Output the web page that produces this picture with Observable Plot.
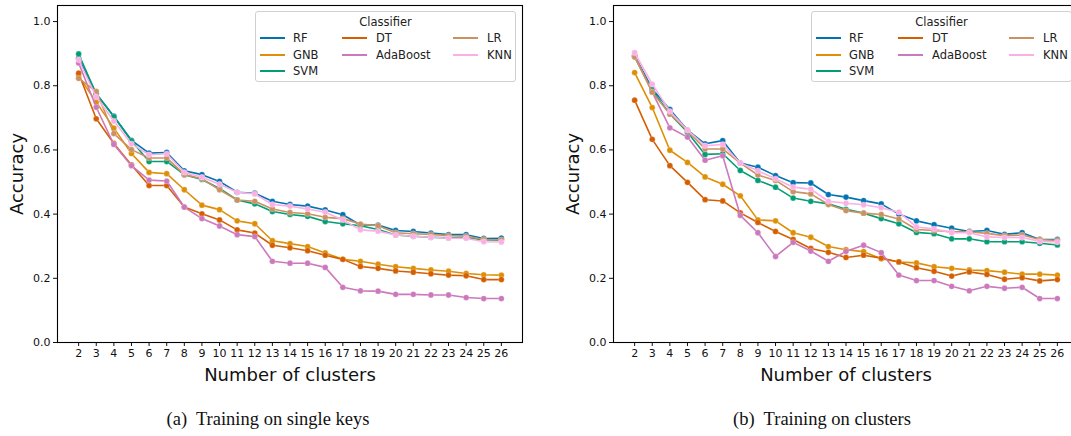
<!DOCTYPE html>
<html>
<head>
<meta charset="utf-8">
<script src="https://cdn.jsdelivr.net/npm/d3@7"></script>
<script src="https://cdn.jsdelivr.net/npm/@observablehq/plot@0.6"></script>
<style>
  html, body { margin: 0; padding: 0; background: #fff; }
  body { width: 1071px; height: 436px; overflow: hidden; position: relative; font-family: "DejaVu Sans", sans-serif; }
  .panel { position: absolute; top: 0; width: 540px; height: 436px; }
  .legend { position: absolute; left: 255px; top: 11px; width: 261px; height: 71px; border: 1px solid #d0d0d0; border-radius: 3px; background: rgba(255,255,255,0.85); font-size: 11.5px; color: #222; box-sizing: border-box; }
  .legend .ttl { position: absolute; left: 0; width: 100%; top: 3px; text-align: center; }
  .legend .item { position: absolute; white-space: nowrap; line-height: 14px; }
  .legend .sw { position: absolute; width: 25px; height: 2px; }
  .caption { position: absolute; top: 409px; font-family: "Liberation Serif", "DejaVu Serif", serif; font-size: 18.5px; color: #111; white-space: pre; transform: translateX(-50%); }
</style>
</head>
<body>
<div id="pa" class="panel" style="left:0px"></div>
<div id="pb" class="panel" style="left:556px"></div>
<div class="caption" style="left:268px">(a)  Training on single keys</div>
<div class="caption" style="left:822px">(b)  Training on clusters</div>
<script>
const clusters = [2,3,4,5,6,7,8,9,10,11,12,13,14,15,16,17,18,19,20,21,22,23,24,25,26];
const classifiers = ["RF","GNB","SVM","DT","AdaBoost","LR","KNN"];
const colors = ["#0173b2","#de8f05","#029e73","#d55e00","#cc78bc","#ca9161","#fbafe4"];
const yTicks = [0, 0.2, 0.4, 0.6, 0.8, 1.0];
const legendColumns = [["RF","GNB","SVM"],["DT","AdaBoost"],["LR","KNN"]];

// (a) Training on single keys
const rfA  = [0.885,0.775,0.705,0.630,0.590,0.592,0.535,0.523,0.502,0.468,0.465,0.440,0.430,0.425,0.413,0.398,0.366,0.366,0.349,0.346,0.341,0.336,0.336,0.324,0.325];
const gnbA = [0.830,0.749,0.668,0.589,0.530,0.526,0.476,0.428,0.414,0.379,0.370,0.317,0.308,0.299,0.279,0.259,0.253,0.244,0.236,0.231,0.226,0.222,0.215,0.211,0.210];
const svmA = [0.899,0.775,0.703,0.628,0.564,0.564,0.523,0.508,0.480,0.444,0.432,0.408,0.399,0.393,0.377,0.370,0.364,0.352,0.335,0.331,0.328,0.326,0.326,0.320,0.319];
const dtA  = [0.839,0.697,0.620,0.553,0.489,0.489,0.422,0.401,0.382,0.351,0.341,0.303,0.295,0.286,0.272,0.259,0.237,0.231,0.223,0.219,0.214,0.210,0.208,0.196,0.196];
const adaA = [0.871,0.733,0.617,0.551,0.506,0.503,0.422,0.386,0.363,0.336,0.330,0.253,0.247,0.247,0.234,0.172,0.161,0.160,0.150,0.150,0.148,0.148,0.140,0.137,0.137];
const lrA  = [0.823,0.782,0.651,0.601,0.575,0.575,0.523,0.510,0.476,0.444,0.440,0.416,0.405,0.401,0.390,0.386,0.369,0.364,0.342,0.339,0.337,0.333,0.331,0.321,0.320];
const knnA = [0.881,0.765,0.690,0.619,0.585,0.588,0.530,0.515,0.493,0.468,0.463,0.430,0.425,0.416,0.406,0.382,0.351,0.347,0.335,0.331,0.328,0.325,0.325,0.314,0.313];

// (b) Training on clusters
const rfB  = [0.894,0.790,0.726,0.662,0.619,0.629,0.559,0.546,0.520,0.498,0.497,0.461,0.453,0.442,0.432,0.400,0.379,0.367,0.356,0.346,0.349,0.337,0.342,0.321,0.321];
const gnbB = [0.841,0.732,0.599,0.561,0.516,0.493,0.457,0.382,0.379,0.342,0.328,0.299,0.289,0.283,0.261,0.251,0.248,0.236,0.231,0.226,0.224,0.219,0.213,0.213,0.210];
const svmB = [0.890,0.785,0.712,0.655,0.586,0.588,0.536,0.505,0.484,0.450,0.440,0.432,0.415,0.403,0.386,0.370,0.343,0.339,0.323,0.323,0.314,0.314,0.314,0.309,0.304];
const dtB  = [0.755,0.633,0.551,0.499,0.445,0.441,0.404,0.374,0.346,0.321,0.293,0.281,0.265,0.272,0.263,0.251,0.233,0.222,0.207,0.220,0.212,0.197,0.202,0.192,0.196];
const adaB = [0.894,0.780,0.669,0.640,0.568,0.582,0.396,0.342,0.268,0.312,0.285,0.253,0.284,0.303,0.280,0.210,0.193,0.193,0.175,0.161,0.175,0.169,0.172,0.137,0.137];
const lrB  = [0.890,0.780,0.712,0.660,0.603,0.603,0.559,0.522,0.505,0.470,0.463,0.430,0.411,0.403,0.399,0.385,0.352,0.349,0.345,0.345,0.340,0.333,0.335,0.321,0.318];
const knnB = [0.903,0.805,0.720,0.662,0.613,0.617,0.559,0.535,0.510,0.484,0.478,0.440,0.434,0.429,0.420,0.406,0.360,0.354,0.342,0.342,0.329,0.327,0.327,0.315,0.313];

const seriesA = [rfA, gnbA, svmA, dtA, adaA, lrA, knnA];
const seriesB = [rfB, gnbB, svmB, dtB, adaB, lrB, knnB];

function makePlot(series) {
  const marks = [];
  series.forEach((vals, i) => {
    const data = clusters.map((c, j) => ({x: c, y: vals[j], clf: classifiers[i]}));
    marks.push(Plot.line(data, {x: "x", y: "y", stroke: colors[i], strokeWidth: 1.6}));
    marks.push(Plot.dot(data, {x: "x", y: "y", fill: colors[i], r: 2.9, stroke: "white", strokeWidth: 0.4, strokeOpacity: 0.6}));
  });
  return Plot.plot({
    width: 540,
    height: 390,
    marginLeft: 57,
    marginRight: 18,
    marginTop: 5,
    marginBottom: 48,
    style: {fontFamily: "DejaVu Sans, sans-serif", background: "white", color: "#111"},
    x: {domain: [0.8, 27.2]},
    y: {domain: [0, 1.05]},
    marks: [
      ...marks,
      Plot.axisX({ticks: clusters, tickFormat: d => String(d), tickSize: 4, tickPadding: 3, fontSize: 11, label: null}),
      Plot.axisY({ticks: yTicks, tickFormat: d3.format(".1f"), tickSize: 4, tickPadding: 3, fontSize: 11, label: null}),
      Plot.frame({stroke: "black", strokeWidth: 1.1}),
      Plot.text(["Number of clusters"], {frameAnchor: "bottom", textAnchor: "middle", lineAnchor: "middle", dy: 33, fontSize: 18, fill: "#111"}),
      Plot.text(["Accuracy"], {frameAnchor: "left", textAnchor: "middle", lineAnchor: "middle", rotate: -90, dx: -40, fontSize: 18, fill: "#111"})
    ]
  });
}

function makeLegend() {
  const box = document.createElement("div");
  box.className = "legend";
  const t = document.createElement("div");
  t.className = "ttl";
  t.textContent = "Classifier";
  box.appendChild(t);
  const colLine = [4, 86, 197];
  const colText = [37, 120, 231];
  const rowY = [26, 42.5, 59];
  legendColumns.forEach((names, col) => {
    names.forEach((name, row) => {
      const i = classifiers.indexOf(name);
      const sw = document.createElement("div");
      sw.className = "sw";
      sw.style.left = colLine[col] + "px";
      sw.style.top = (rowY[row] - 1) + "px";
      sw.style.background = colors[i];
      box.appendChild(sw);
      const lab = document.createElement("div");
      lab.className = "item";
      lab.style.left = colText[col] + "px";
      lab.style.top = (rowY[row] - 7) + "px";
      lab.textContent = name;
      box.appendChild(lab);
    });
  });
  return box;
}

const pa = document.getElementById("pa");
pa.appendChild(makePlot(seriesA));
pa.appendChild(makeLegend());
const pb = document.getElementById("pb");
pb.appendChild(makePlot(seriesB));
pb.appendChild(makeLegend());
</script>
</body>
</html>
